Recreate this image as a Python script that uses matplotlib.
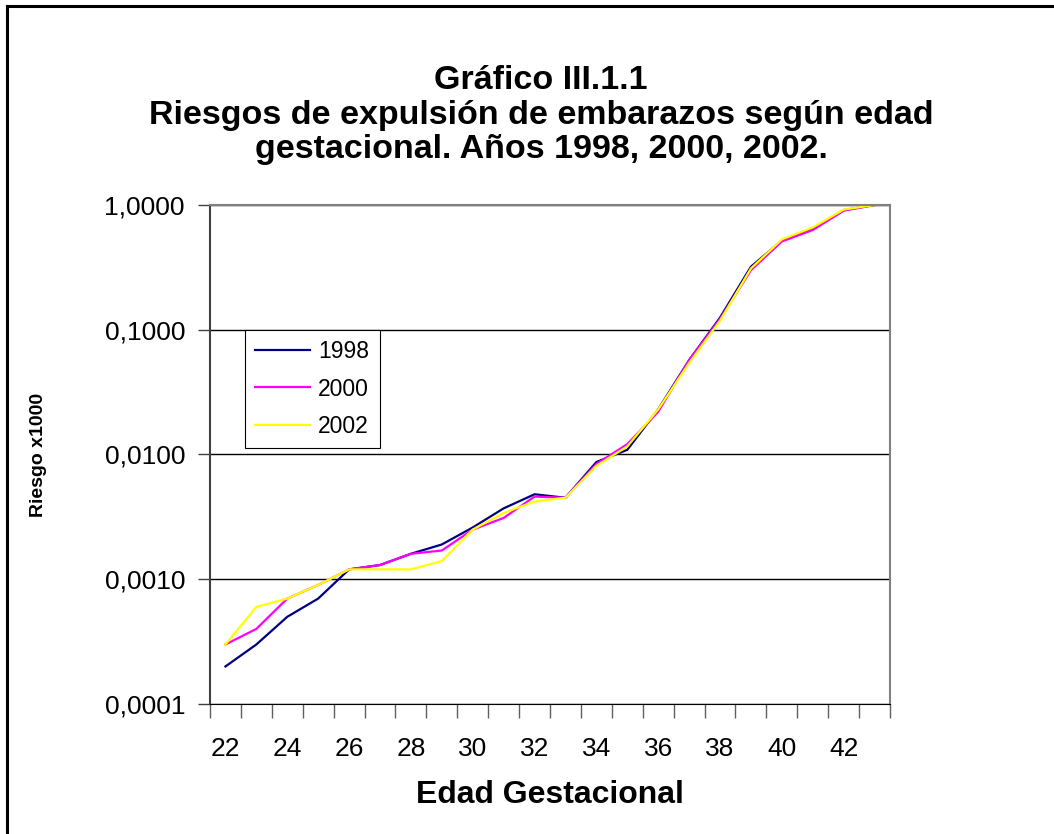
#!/usr/bin/env python3

import matplotlib
matplotlib.use('Agg')
import matplotlib.pyplot as plt
from matplotlib.lines import Line2D

plt.rcParams['font.family'] = ['Liberation Sans', 'DejaVu Sans']

# edad gestacional (semanas)
weeks = list(range(22, 44))

r1998 = [0.0002, 0.0003, 0.0005, 0.0007, 0.0012, 0.0013, 0.0016, 0.0019, 0.0026, 0.0037,
         0.0048, 0.0045, 0.0087, 0.0109, 0.023, 0.057, 0.125, 0.32, 0.52, 0.64, 0.91, 1.0]
r2000 = [0.0003, 0.0004, 0.0007, 0.0009, 0.0012, 0.0013, 0.0016, 0.0017, 0.0025, 0.0031,
         0.0046, 0.0045, 0.0084, 0.0121, 0.022, 0.057, 0.122, 0.30, 0.51, 0.63, 0.90, 1.0]
r2002 = [0.0003, 0.0006, 0.0007, 0.0009, 0.0012, 0.0012, 0.0012, 0.0014, 0.0025, 0.0034,
         0.0042, 0.0045, 0.0081, 0.0116, 0.023, 0.054, 0.118, 0.31, 0.53, 0.66, 0.92, 1.0]

series = [('1998', r1998, '#000080'),
          ('2000', r2000, '#FF00FF'),
          ('2002', r2002, '#FFFF00')]

ytick_vals = [0.0001, 0.001, 0.01, 0.1, 1.0]
ytick_labels = ['0,0001', '0,0010', '0,0100', '0,1000', '1,0000']

fig = plt.figure(figsize=(10.54, 8.34), dpi=100)
ax = fig.add_axes([210/1054, 1-704/834, 680/1054, 499/834])

for name, vals, col in series:
    ax.plot(weeks, vals, color=col, lw=1.6, label=name)

ax.set_yscale('log')
ax.set_ylim(0.0001, 1.0)
ax.set_xlim(weeks[0]-0.5, weeks[-1]+0.5)

ax.set_yticks(ytick_vals)
ax.set_yticklabels(ytick_labels, fontsize=19)
ax.yaxis.set_minor_locator(matplotlib.ticker.NullLocator())
ax.tick_params(axis='y', length=9, width=1, color='#404040', pad=9)

ax.set_xticks(weeks[::2])
ax.set_xticklabels([str(w) for w in weeks[::2]], fontsize=19)
ax.set_xticks([w - 0.5 for w in weeks] + [weeks[-1] + 0.5], minor=True)
ax.tick_params(axis='x', which='major', length=0, pad=24)
ax.tick_params(axis='x', which='minor', length=10, width=1, color='#606060')

ax.yaxis.grid(True, which='major', color='black', lw=1)
ax.set_axisbelow(True)

for s in ['top', 'right']:
    ax.spines[s].set_color('#808080')
    ax.spines[s].set_linewidth(1.5)
ax.spines['left'].set_color('#404040')
ax.spines['left'].set_linewidth(1.5)
ax.spines['bottom'].set_color('black')

ax.set_xlabel('Edad Gestacional', fontsize=23, fontweight='bold')
ax.xaxis.set_label_coords(0.5, (704-780)/499)
ax.set_ylabel('Riesgo x1000', fontsize=14, fontweight='bold')
ax.yaxis.set_label_coords((47-210)/680, 0.5)

leg = ax.legend(loc='upper left', bbox_to_anchor=((245-210)/680, (704-330)/499),
                borderaxespad=0, fontsize=16.5, fancybox=False, framealpha=1,
                edgecolor='black', handlelength=2.4, handletextpad=0.35,
                labelspacing=0.62, borderpad=0.45)
leg.get_frame().set_linewidth(0.8)

fig.text(541/1054, 1-65/834,
         'Gráfico III.1.1\nRiesgos de expulsión de embarazos según edad\ngestacional. Años 1998, 2000, 2002.',
         ha='center', va='top', fontsize=24.5, fontweight='bold', linespacing=1.15)

# marco exterior del gráfico
fig.add_artist(Line2D([7/1054, 7/1054], [0, 1-6/834], color='black', lw=2.2))
fig.add_artist(Line2D([7/1054, 1], [1-6/834, 1-6/834], color='black', lw=2.2))

fig.savefig('out.png', dpi=100)
